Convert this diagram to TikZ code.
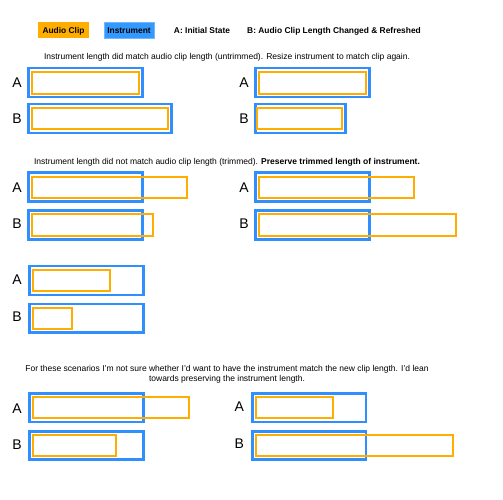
\documentclass[tikz,border=0pt]{standalone}
\usepackage{fontspec}
\setmainfont{Liberation Sans}
\definecolor{clipor}{HTML}{FFAE00}
\definecolor{instbl}{HTML}{2F8FFF}
\definecolor{legbl}{HTML}{3399FF}
\tikzset{
  inst/.style={draw=instbl,line width=2.5pt},
  clip/.style={draw=clipor,line width=2pt},
  lbl/.style={font=\fontsize{14}{16}\selectfont,inner sep=0pt},
  body/.style={font=\fontsize{8.5}{9.4}\selectfont,inner sep=0pt},
  legtxt/.style={font=\fontsize{8.4}{9}\bfseries\selectfont,inner sep=0pt,text height=6.1pt,text depth=0pt}
}
\begin{document}
\begin{tikzpicture}[x=1pt,y=-1pt]
\useasboundingbox (0,0) rectangle (503,500);
% legend
\node[fill=clipor,minimum width=51pt,minimum height=16pt,inner sep=0pt,legtxt] (legclip) at (63.5,30) {Audio Clip};
\node[fill=legbl,draw=legbl!70!white,line width=0.6pt,minimum width=50pt,minimum height=16pt,inner sep=0pt,legtxt] (leginst) at (129,30) {Instrument};
\node[legtxt] (legA) at (202,30) {A: Initial State};
\node[legtxt,anchor=west] (legB) at (247,30) {B: Audio Clip Length Changed \& Refreshed};
% section 1
\node[body] (t1) at (227,57) {Instrument length did match audio clip length (untrimmed). Resize instrument to match clip again.};
\node[lbl] (a1l) at (17,83) {A};
\node[lbl] (b1l) at (17,118.5) {B};
\node[lbl] (a1r) at (244,83) {A};
\node[lbl] (b1r) at (244,118.5) {B};
\draw[inst] (28.3,68) rectangle (142.7,97);
\draw[clip] (31.7,72) rectangle (139,94);
\draw[inst] (28.3,104) rectangle (171.3,133);
\draw[clip] (31.7,108) rectangle (167.7,129);
\draw[inst] (255.3,68) rectangle (369.7,97);
\draw[clip] (258.7,72) rectangle (366,94);
\draw[inst] (255.3,104) rectangle (345.3,133);
\draw[clip] (257.3,108) rectangle (342.3,129);
% section 2
\node[body] (t2) at (227,162.3) {Instrument length did not match audio clip length (trimmed). \textbf{Preserve trimmed length of instrument.}};
\node[lbl] (a2l) at (17,188) {A};
\node[lbl] (b2l) at (17,224) {B};
\node[lbl] (a2r) at (244,188) {A};
\node[lbl] (b2r) at (244,224) {B};
\draw[inst] (28.3,172.7) rectangle (142.7,201.7);
\draw[clip] (31.7,176.7) rectangle (187.3,197.7);
\draw[inst] (28.3,210.7) rectangle (142.7,239.3);
\draw[clip] (31.7,214.3) rectangle (153,235.7);
\draw[inst] (255.3,172.7) rectangle (369.3,201.7);
\draw[clip] (258.7,176.7) rectangle (414,197.7);
\draw[inst] (255.3,210.7) rectangle (369.3,239.3);
\draw[clip] (258.7,214.3) rectangle (456,235.7);
% section 3
\node[lbl] (a3l) at (17,280) {A};
\node[lbl] (b3l) at (17,316.7) {B};
\draw[inst] (29.7,266) rectangle (143.7,295);
\draw[clip] (33,270.3) rectangle (110.3,291);
\draw[inst] (29.7,304) rectangle (143.7,332.7);
\draw[clip] (33,308.3) rectangle (72.3,329);
% section 4
\node[body,align=center] (t4) at (227,374.2) {For these scenarios I'm not sure whether I'd want to have the instrument match the new clip length. I'd lean\\towards preserving the instrument length.};
\node[lbl] (a4l) at (17,408.3) {A};
\node[lbl] (b4l) at (17,445) {B};
\node[lbl] (a4r) at (239.3,406.7) {A};
\node[lbl] (b4r) at (239.3,443.3) {B};
\draw[inst] (29.7,393.7) rectangle (143.7,422);
\draw[clip] (33,397.3) rectangle (188.7,418);
\draw[inst] (29.7,431.3) rectangle (143.7,459.7);
\draw[clip] (33,435.3) rectangle (115.7,455.7);
\draw[inst] (252.3,393.7) rectangle (366,422);
\draw[clip] (255.7,397.3) rectangle (333,418);
\draw[inst] (252.3,431.3) rectangle (366,459.7);
\draw[clip] (255.7,435) rectangle (453.3,455.7);
\end{tikzpicture}
\end{document}
